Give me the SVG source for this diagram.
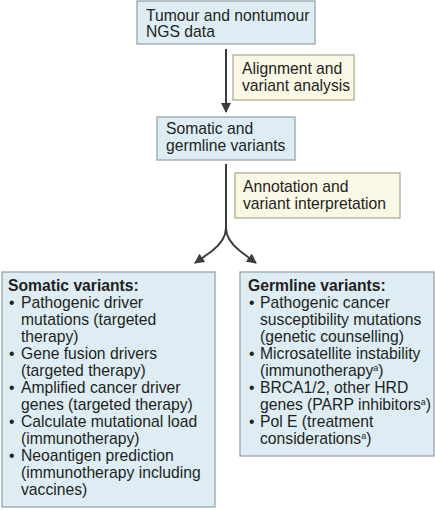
<svg xmlns="http://www.w3.org/2000/svg" width="435" height="510" viewBox="0 0 435 510">
<style>
.node{fill:#ddedf3;stroke:#8e9fa6;stroke-width:1.2}
.lbl{fill:#fcf8e6;stroke:#a9a690;stroke-width:1.2}
text{font-family:"Liberation Sans",Arial,sans-serif;font-size:15.7px;fill:#231f20}
.b{font-weight:bold}
.sup{font-size:9px}
.conn{fill:none;stroke:#3b3b3b;stroke-width:2}
</style>
<defs>
<marker id="ah" viewBox="0 0 10 10" refX="9" refY="5" markerWidth="5" markerHeight="5" orient="auto" markerUnits="strokeWidth">
<path d="M0,0 L10,5 L0,10 z" fill="#3b3b3b"/>
</marker>
</defs>
<rect width="435" height="510" fill="#ffffff"/>
<g id="connectors">
<path class="conn" d="M226,49 V112" marker-end="url(#ah)"/>
<path class="conn" d="M226,164 V228 Q226,240 212,251 L195,263" marker-end="url(#ah)"/>
<path class="conn" d="M226,228 Q226,240 240,251 L256,263" marker-end="url(#ah)"/>
</g>
<g id="node-ngs">
<rect class="node" x="137" y="1" width="178" height="43"/>
<text x="146" y="21">Tumour and nontumour</text>
<text x="146" y="37">NGS data</text>
</g>
<g id="label-alignment">
<rect class="lbl" x="233" y="55" width="121" height="45"/>
<text x="242" y="74">Alignment and</text>
<text x="242" y="91">variant analysis</text>
</g>
<g id="node-variants">
<rect class="node" x="157" y="117" width="138" height="43"/>
<text x="166" y="134">Somatic and</text>
<text x="166" y="151">germline variants</text>
</g>
<g id="label-annotation">
<rect class="lbl" x="235" y="173" width="165" height="45"/>
<text x="243" y="192">Annotation and</text>
<text x="243" y="209">variant interpretation</text>
</g>
<g id="node-somatic">
<rect class="node" x="2" y="272" width="213" height="235"/>
<text class="b" x="8" y="291">Somatic variants:</text>
<text x="9" y="308">•</text><text x="21" y="308">Pathogenic driver</text>
<text x="21" y="325">mutations (targeted</text>
<text x="21" y="342">therapy)</text>
<text x="9" y="359">•</text><text x="21" y="359">Gene fusion drivers</text>
<text x="21" y="376">(targeted therapy)</text>
<text x="9" y="393">•</text><text x="21" y="393">Amplified cancer driver</text>
<text x="21" y="410">genes (targeted therapy)</text>
<text x="9" y="427">•</text><text x="21" y="427">Calculate mutational load</text>
<text x="21" y="444">(immunotherapy)</text>
<text x="9" y="461">•</text><text x="21" y="461">Neoantigen prediction</text>
<text x="21" y="478">(immunotherapy including</text>
<text x="21" y="495">vaccines)</text>
</g>
<g id="node-germline">
<rect class="node" x="240" y="272" width="194" height="184"/>
<text class="b" x="248" y="291">Germline variants:</text>
<text x="249" y="308">•</text><text x="260" y="308">Pathogenic cancer</text>
<text x="260" y="325">susceptibility mutations</text>
<text x="260" y="342">(genetic counselling)</text>
<text x="249" y="359">•</text><text x="260" y="359">Microsatellite instability</text>
<text x="260" y="376">(immunotherapy<tspan class="sup" dy="-5">a</tspan><tspan dy="5">)</tspan></text>
<text x="249" y="393">•</text><text x="260" y="393">BRCA1/2, other HRD</text>
<text x="260" y="410">genes (PARP inhibitors<tspan class="sup" dy="-5">a</tspan><tspan dy="5">)</tspan></text>
<text x="249" y="427">•</text><text x="260" y="427">Pol E (treatment</text>
<text x="260" y="444">considerations<tspan class="sup" dy="-5">a</tspan><tspan dy="5">)</tspan></text>
</g>
</svg>
